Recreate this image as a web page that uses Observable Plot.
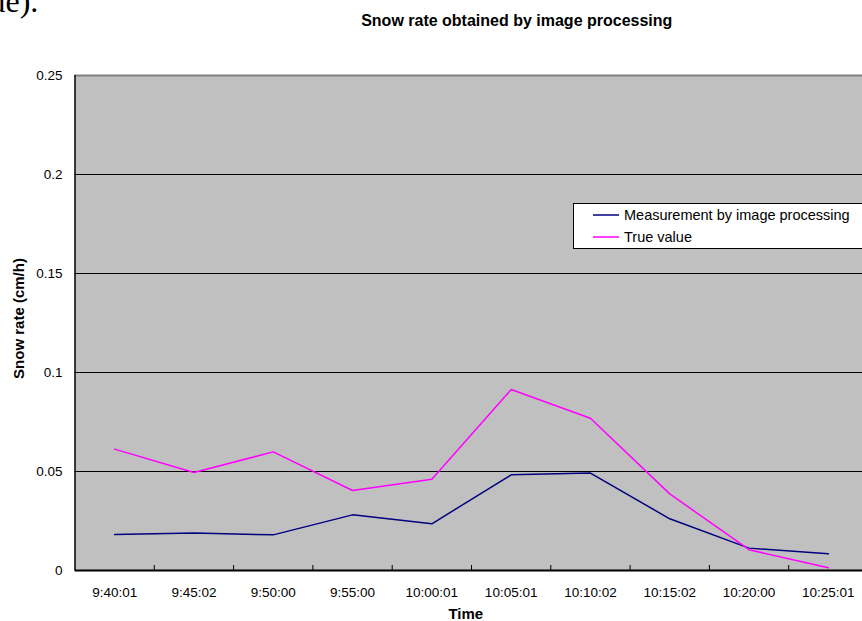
<!DOCTYPE html>
<html>
<head>
<meta charset="utf-8">
<script src="https://cdn.jsdelivr.net/npm/d3@7"></script>
<script src="https://cdn.jsdelivr.net/npm/@observablehq/plot@0.6"></script>
<style>
  html, body { margin: 0; padding: 0; background: #fff; }
  #wrap { position: relative; width: 862px; height: 621px; overflow: hidden; font-family: "Liberation Sans", Arial, sans-serif; }
  #legend {
    position: absolute; left: 573px; top: 203px; width: 300px; height: 44px;
    background: #fff; border: 1px solid #000; box-sizing: content-box;
    font-size: 14.5px; color: #000;
  }
  #legend .row { position: absolute; left: 19px; height: 20px; display: flex; align-items: center; white-space: nowrap; }
  #legend .row svg { margin-right: 5px; }
</style>
</head>
<body>
<div id="wrap"><div id="legend"></div></div>
<script>
// Sampling times (categories on the x axis)
const times = ["9:40:01", "9:45:02", "9:50:00", "9:55:00", "10:00:01",
               "10:05:01", "10:10:02", "10:15:02", "10:20:00", "10:25:01"];

// Snow rate (cm/h) measured by image processing
const measured = [0.0182, 0.0189, 0.0180, 0.0281, 0.0236, 0.0483, 0.0492, 0.0261, 0.0113, 0.0084];

// Snow rate (cm/h), true value
const trueValue = [0.0613, 0.0495, 0.0599, 0.0404, 0.0461, 0.0914, 0.0769, 0.0387, 0.0105, 0.0014];

// Series names and colours
const seriesNames = ["Measurement by image processing", "True value"];
const seriesColors = ["#000080", "#ff00ff"];

// Y axis ticks and grid lines
const yTicks = [0, 0.05, 0.1, 0.15, 0.2, 0.25];
const yGrid = [0.05, 0.1, 0.15, 0.2];

const title = "Snow rate obtained by image processing";
const xTitle = "Time";
const yTitle = "Snow rate (cm/h)";
const fragment = "ue).";

// Each category occupies one unit; points sit in the middle of their slot
const pos = (d, i) => i + 0.5;
const centers = times.map((_, i) => i + 0.5);
const boundaries = times.slice(1).map((_, i) => i + 1);

const chart = Plot.plot({
  width: 862,
  height: 621,
  marginLeft: 74.5,
  marginRight: 0,
  marginTop: 75,
  marginBottom: 51,
  style: { fontFamily: "Liberation Sans, Arial, sans-serif", fontSize: "13.5px", color: "#000", background: "transparent" },
  x: { type: "linear", domain: [0, times.length], range: [74.5, 867.5], axis: null },
  y: { type: "linear", domain: [0, 0.25], axis: null },
  marks: [
    Plot.frame({ fill: "#c0c0c0", stroke: "none" }),
    Plot.gridY(yGrid, { stroke: "#000", strokeOpacity: 1, strokeWidth: 1 }),
    Plot.ruleY([0.25], { stroke: "#808080", strokeWidth: 2 }),
    Plot.ruleX([0], { stroke: "#000", strokeWidth: 1.5 }),
    Plot.ruleY([0], { stroke: "#000", strokeWidth: 2 }),
    // tick marks between categories, pointing into the plot area
    Plot.axisX(boundaries, { tickSize: 5, dy: -5, tickFormat: () => "", stroke: "#000" }),
    // category labels
    Plot.axisX(centers, { tickSize: 0, tickPadding: 16.5, tickFormat: d => times[Math.floor(d)] }),
    Plot.axisY(yTicks, { tickSize: 0, tickPadding: 12.5, tickFormat: d => String(d) }),
    Plot.line(measured, { x: pos, y: d => d, stroke: seriesColors[0], strokeWidth: 1.5 }),
    Plot.line(trueValue, { x: pos, y: d => d, stroke: seriesColors[1], strokeWidth: 1.5 }),
    // titles
    Plot.text([title], { frameAnchor: "top", lineAnchor: "bottom", dx: 48, dy: -49.5, fontWeight: "bold", fontSize: 16 }),
    Plot.text([xTitle], { frameAnchor: "bottom", lineAnchor: "bottom", dx: -3, dy: 48, fontWeight: "bold", fontSize: 15 }),
    Plot.text([yTitle], { frameAnchor: "left", textAnchor: "middle", lineAnchor: "middle", rotate: -90, dx: -55.5, dy: -4.5, fontWeight: "bold", fontSize: 15 }),
    Plot.text([fragment], { frameAnchor: "top-left", textAnchor: "start", lineAnchor: "bottom", dx: -85.5, dy: -64, fontFamily: "Liberation Serif, Times New Roman, serif", fontSize: 32 })
  ]
});

const wrap = document.getElementById("wrap");
wrap.insertBefore(chart, wrap.firstChild);

// Legend
const legend = document.getElementById("legend");
seriesNames.forEach((name, i) => {
  const row = document.createElement("div");
  row.className = "row";
  row.style.top = (1 + i * 22) + "px";
  row.innerHTML = `<svg width="26" height="4"><line x1="0" x2="26" y1="2" y2="2" stroke="${seriesColors[i]}" stroke-width="1.5"/></svg><span>${name}</span>`;
  legend.appendChild(row);
});
</script>
</body>
</html>
